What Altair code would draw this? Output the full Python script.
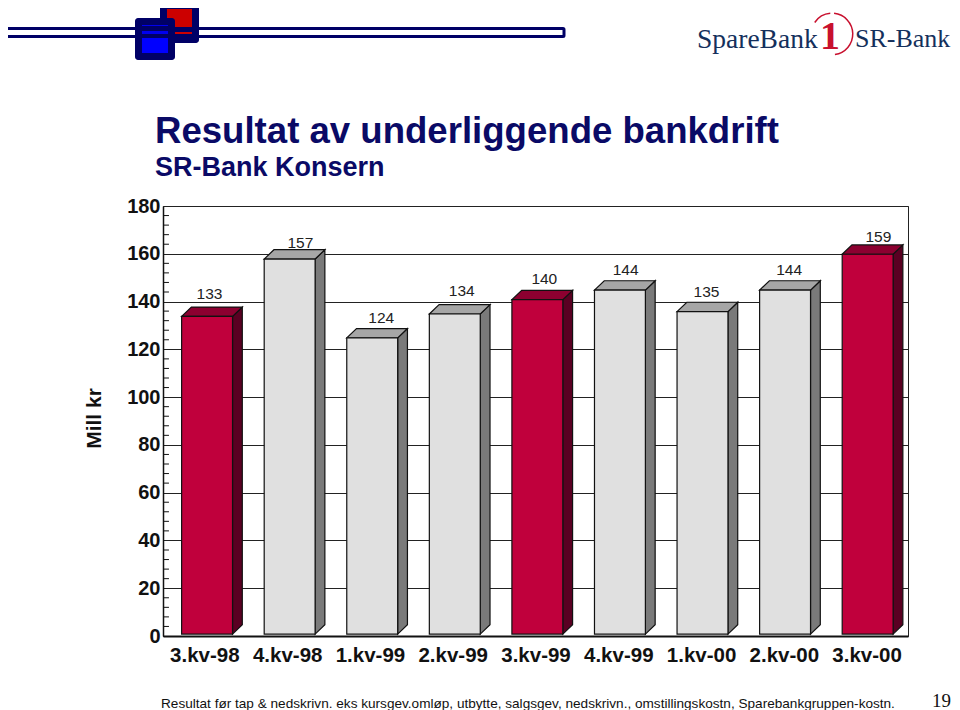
import altair as alt
import pandas as pd

quarters = ["3.kv-98", "4.kv-98", "1.kv-99", "2.kv-99", "3.kv-99", "4.kv-99", "1.kv-00", "2.kv-00", "3.kv-00"]
values = [133, 157, 124, 134, 140, 144, 135, 144, 159]
highlighted = [True, False, False, False, True, False, False, False, True]
major_ticks = [0, 20, 40, 60, 80, 100, 120, 140, 160, 180]
minor_ticks = [v for v in range(4, 180, 4) if v % 20]

# layout (data units: x = category slots, y = Mill kr)
PLOT_X, PLOT_Y, PLOT_W, PLOT_H = 163, 206, 745, 430
SLOT, LEFT, WIDTH, DEPTH_X, DEPTH_Y, BASE = 0.9975, 0.225, 0.615, 0.118, 3.9, 0.8
TICK_LEN = 0.072
LABEL_SHIFT = [-0.03, 0.07, 0.05, 0.025, 0.025, 0.01, -0.01, -0.01, 0.07]
LABEL_LIFT = [1.2, -1.6, 0, 1.2, 0.4, 0, 0, 0, -1.2]
PALETTE = {True: ("#c0003c", "#8c0030", "#5a0022"), False: ("#e0e0e0", "#a6a6a6", "#7a7a7a")}

front, side, top, labels = [], [], [], []
for i, (q, v, h) in enumerate(zip(quarters, values, highlighted)):
    f, t, s = PALETTE[h]
    x0, x1 = i * SLOT + LEFT, i * SLOT + LEFT + WIDTH
    y0, y1 = BASE, v + BASE
    front.append(dict(q=q, x=x0, x2=x1, y=y0, y2=y1, c=f))
    side += [dict(q=q, x=x1, y=y0, y2=y1, c=s),
             dict(q=q, x=x1 + DEPTH_X, y=y0 + DEPTH_Y, y2=y1 + DEPTH_Y, c=s)]
    top += [dict(q=q, x=x0, y=y1, y2=y1, c=t),
            dict(q=q, x=x0 + DEPTH_X, y=y1, y2=y1 + DEPTH_Y, c=t),
            dict(q=q, x=x1, y=y1, y2=y1 + DEPTH_Y, c=t),
            dict(q=q, x=x1 + DEPTH_X, y=y1 + DEPTH_Y, y2=y1 + DEPTH_Y, c=t)]
    labels.append(dict(x=x0 + (WIDTH + DEPTH_X) / 2 + LABEL_SHIFT[i], y=y1 + DEPTH_Y + LABEL_LIFT[i], v=str(v)))

xs = alt.Scale(domain=[0, 9], nice=False, zero=False)
ys = alt.Scale(domain=[0, 180], nice=False)
label_expr = "[" + ",".join(f"'{q}'" for q in quarters) + "][floor(datum.value)]"
X = alt.X("x:Q", scale=xs, title=None, axis=alt.Axis(
    values=[i + 0.5 for i in range(9)], labelExpr=label_expr, grid=False, ticks=False,
    domainColor="#111", domainWidth=2, labelFont="Liberation Sans", labelFontWeight="bold",
    labelFontSize=20.5, labelColor="#111", labelPadding=9, labelFlush=False, labelOverlap=False))
Y = alt.Y("y:Q", scale=ys, title="Mill kr", axis=alt.Axis(
    values=major_ticks, grid=True, gridColor="#222", gridWidth=1, ticks=False,
    domainColor="#111", domainWidth=1.5, labelFont="Liberation Sans", labelFontWeight="bold",
    labelFontSize=20, labelColor="#111", labelPadding=3,
    titleFont="Liberation Sans", titleFontWeight="bold", titleFontSize=21, titleColor="#111",
    titlePadding=22, titleY=212))

one = pd.DataFrame({"a": [0]})


def px(x):
    return alt.value(x - PLOT_X)


def py(y):
    return alt.value(y - PLOT_Y)


def box(x0, y0, x1, y1, **kw):
    return alt.Chart(one).mark_rect(**kw).encode(x=px(x0), x2=px(x1), y=py(y0), y2=py(y1))


def word(text, x, y, **kw):
    kw.setdefault("font", "Liberation Sans")
    kw.setdefault("align", "left")
    kw.setdefault("baseline", "alphabetic")
    return alt.Chart(one).mark_text(text=text, **kw).encode(x=px(x), y=py(y))


bars_front = alt.Chart(pd.DataFrame(front)).mark_rect(stroke="#111", strokeWidth=1.2).encode(
    x=X, x2="x2:Q", y=Y, y2="y2:Q", color=alt.Color("c:N", scale=None))
bars_side = alt.Chart(pd.DataFrame(side)).mark_area(stroke="#111", strokeWidth=1.2).encode(
    x=X, y=Y, y2="y2:Q", detail="q:N", color=alt.Color("c:N", scale=None))
bars_top = alt.Chart(pd.DataFrame(top)).mark_area(stroke="#111", strokeWidth=1.2).encode(
    x=X, y=Y, y2="y2:Q", detail="q:N", color=alt.Color("c:N", scale=None))
bar_labels = alt.Chart(pd.DataFrame(labels)).mark_text(
    font="Liberation Sans", fontSize=15.5, color="#222", baseline="alphabetic", dy=-5.5).encode(
    x=X, y=Y, text="v:N")

# inward minor ticks on the y axis, drawn as thin rects from the same scales
minor = alt.Chart(pd.DataFrame({"y": minor_ticks})).transform_calculate(
    x="0", x2=str(TICK_LEN)).mark_rule(stroke="#111", strokeWidth=1, opacity=1).encode(
    x=X, x2="x2:Q", y=Y)

NAVY = "#000066"
TITLE = "#0a0a66"
decor = [
    box(6, 28.5, 564, 36.5, fill="white", stroke=NAVY, strokeWidth=3, cornerRadius=1),
    box(160, 2, 199, 43, fill=NAVY, cornerRadius=3),
    box(167, 9, 192, 27, fill="#cc0000"),
    box(167, 32, 192, 34, fill="#cc0000"),
    box(135, 18, 175, 60, fill=NAVY, cornerRadius=3),
    box(142, 25, 168, 26, fill="#0000ee"),
    box(142, 31, 168, 34, fill="#0000ee"),
    box(142, 38, 168, 53, fill="#0000ff"),
]
LOGO = "#14305c"
logo = [
    word("SpareBank", 697, 48, font="Liberation Serif", fontSize=27.5, color=LOGO),
    word("SR-Bank", 855, 47, font="Liberation Serif", fontSize=26, color=LOGO),
    word("1", 820, 49, font="Liberation Serif", fontWeight="bold", fontSize=40, color="#c8102e"),
    alt.Chart(one).mark_arc(innerRadius=20, outerRadius=21.5, theta=0.1, theta2=3.0, color="#c8102e").encode(
        x=px(832), y=py(34)),
    alt.Chart(one).mark_arc(innerRadius=20, outerRadius=21.5, theta=5.3, theta2=6.2, color="#c8102e").encode(
        x=px(832), y=py(34)),
]
texts = [
    word("Resultat av underliggende bankdrift", 155, 143, fontSize=36.6, fontWeight="bold", color=TITLE),
    word("SR-Bank Konsern", 155, 176, fontSize=27, fontWeight="bold", color=TITLE),
    word("Resultat før tap & nedskrivn. eks kursgev.omløp, utbytte, salgsgev, nedskrivn., omstillingskostn, Sparebankgruppen-kostn.",
         161, 708, fontSize=13.6, color="#111"),
    word("19", 932, 707, font="Liberation Serif", fontSize=19, color="#111"),
]

chart = alt.layer(
    bars_side, bars_top, bars_front, bar_labels, minor, *decor, *logo, *texts,
).properties(
    width=PLOT_W, height=PLOT_H,
    autosize=alt.AutoSizeParams(type="none"),
    padding={"left": PLOT_X - 8, "top": PLOT_Y - 8, "right": 44, "bottom": 74},
).configure_view(stroke="#222", strokeWidth=1)

chart.save("out.html", embed_options={"renderer": "svg", "actions": False})
